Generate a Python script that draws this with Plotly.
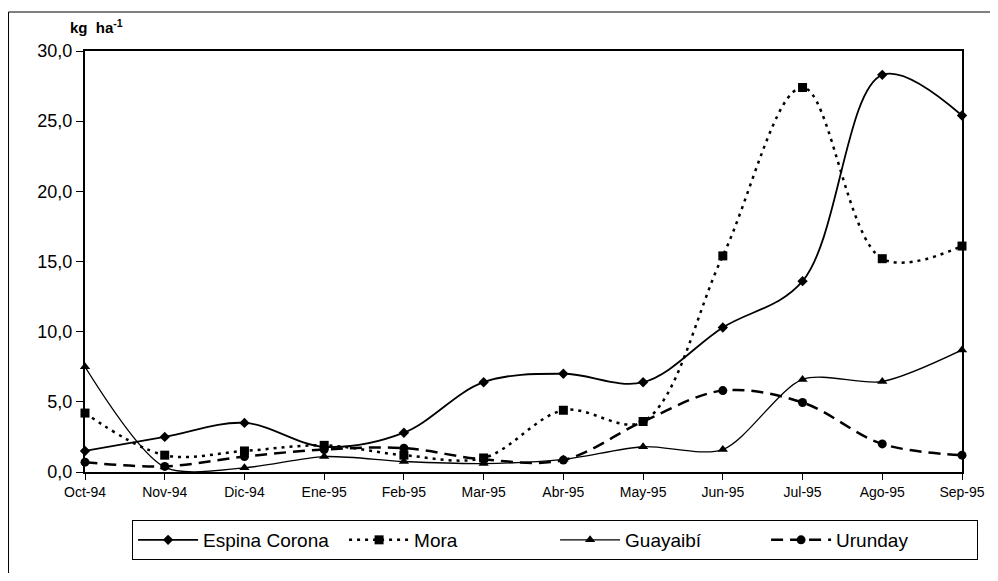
import plotly.graph_objects as go

months = ["Oct-94", "Nov-94", "Dic-94", "Ene-95", "Feb-95", "Mar-95",
          "Abr-95", "May-95", "Jun-95", "Jul-95", "Ago-95", "Sep-95"]
espina_corona = [1.5, 2.5, 3.5, 1.8, 2.8, 6.4, 7.0, 6.4, 10.3, 13.6, 28.3, 25.4]
mora = [4.2, 1.2, 1.5, 1.9, 1.2, 1.0, 4.4, 3.6, 15.4, 27.4, 15.2, 16.1]
guayaibi = [7.5, 0.35, 0.3, 1.1, 0.75, 0.6, 0.9, 1.8, 1.6, 6.6, 6.45, 8.7]
urunday = [0.7, 0.4, 1.1, 1.6, 1.7, 0.9, 0.85, 3.6, 5.8, 4.95, 2.0, 1.2]
y_ticks = [0, 5, 10, 15, 20, 25, 30]

FONT = "Arial, Liberation Sans, sans-serif"

fig = go.Figure()
fig.add_trace(go.Scatter(
    x=months, y=espina_corona, name="Espina Corona", mode="lines+markers",
    line=dict(color="black", width=1.8, shape="spline", smoothing=1),
    marker=dict(symbol="diamond", size=8, color="black"), cliponaxis=False))
fig.add_trace(go.Scatter(
    x=months, y=mora, name="Mora", mode="lines+markers",
    line=dict(color="black", width=2.5, shape="spline", smoothing=1, dash="3px,5px"),
    marker=dict(symbol="square", size=9, color="black"), cliponaxis=False))
fig.add_trace(go.Scatter(
    x=months, y=guayaibi, name="Guayaibí", mode="lines+markers",
    line=dict(color="black", width=1.3, shape="spline", smoothing=0.8),
    marker=dict(symbol="triangle-up", size=9, color="black"), cliponaxis=False))
fig.add_trace(go.Scatter(
    x=months, y=urunday, name="Urunday", mode="lines+markers",
    line=dict(color="black", width=2.5, shape="spline", smoothing=1, dash="12px,7px"),
    marker=dict(symbol="circle", size=9, color="black"), cliponaxis=False))

# page body has an 8px margin, so the figure is sized/offset to fit the 998x581 window
fig.update_layout(
    width=982, height=565,
    margin=dict(l=77, r=28, t=43, b=101, autoexpand=False),
    paper_bgcolor="white", plot_bgcolor="white",
    font=dict(family=FONT, color="black"),
    separators=",.",
    showlegend=True,
    legend=dict(
        orientation="h", x=0.536, xanchor="center", y=-0.114, yanchor="top",
        bordercolor="black", borderwidth=1, font=dict(size=19, family=FONT),
        entrywidth=136, itemwidth=60, bgcolor="white",
    ),
    xaxis=dict(
        type="category", range=[0, 11], showgrid=False, zeroline=False,
        showline=True, linecolor="black", linewidth=2, mirror=True,
        ticks="outside", ticklen=6, tickcolor="black",
        tickfont=dict(size=14, family=FONT),
    ),
    yaxis=dict(
        range=[0, 30], tickvals=y_ticks, tickformat=".1f", showgrid=False,
        zeroline=False, showline=True, linecolor="black", linewidth=2, mirror=True,
        ticks="outside", ticklen=7, tickcolor="black",
        tickfont=dict(size=18, family=FONT),
    ),
    shapes=[dict(type="rect", xref="paper", yref="paper",
                 x0=-0.0872, y0=-0.32, x1=1.1, y1=1.0926,
                 line=dict(color="black", width=1), layer="below")],
    annotations=[dict(
        text="<b>kg  ha</b><sup><b>-1</b></sup>", xref="paper", yref="paper",
        x=-0.019, y=1.059, xanchor="left", yanchor="middle", showarrow=False,
        font=dict(size=15, family=FONT))],
)

fig.write_html("out.html")
